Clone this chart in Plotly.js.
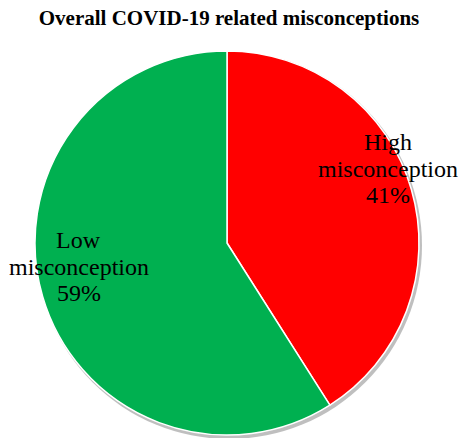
<!DOCTYPE html>
<html>
<head>
<meta charset="utf-8">
<script src="https://cdn.plot.ly/plotly-3.0.1.min.js"></script>
<style>html,body{margin:0;padding:0;background:#fff;}#chart{width:459px;height:438px;}</style>
</head>
<body>
<div id="chart"></div>
<script>
const categories = ["High misconception", "Low misconception"];
const labelLines = [["High", "misconception"], ["Low", "misconception"]];
const values = [41, 59];
const colors = ["#FF0000", "#00B050"];

const W = 459, H = 438;
const cx = 227, cy = 243, r = 192;
const font = "Liberation Serif, Times New Roman, serif";

const labelPos = [[388, 142], [78.5, 240]];
const lineGap = 26.5;
const annotations = [];
categories.forEach((c, i) => {
  const lines = labelLines[i].concat([values[i] + "%"]);
  lines.forEach((t, j) => {
    annotations.push({
      xref: "paper", yref: "paper",
      x: labelPos[i][0] / W, y: 1 - (labelPos[i][1] + j * lineGap) / H,
      xanchor: "center", yanchor: "middle",
      showarrow: false,
      text: t,
      font: {family: font, size: 24, color: "#000"}
    });
  });
});

const data = [{
  type: "pie",
  labels: categories,
  values: values,
  sort: false,
  direction: "clockwise",
  rotation: 0,
  marker: {colors: colors, line: {color: "#ffffff", width: 1.5}},
  textinfo: "none",
  hoverinfo: "label+percent",
  showlegend: false,
  domain: {x: [(cx - r) / W, (cx + r) / W], y: [1 - (cy + r) / H, 1 - (cy - r) / H]}
}];

const layout = {
  width: W, height: H,
  margin: {l: 0, r: 0, t: 0, b: 0},
  paper_bgcolor: "#fff",
  showlegend: false,
  title: {
    text: "<b>Overall COVID-19 related misconceptions</b>",
    font: {family: font, size: 21, color: "#000"},
    x: 229 / W, xanchor: "center",
    y: 1 - 18 / H, yanchor: "middle"
  },
  shapes: [{
    type: "circle", xref: "paper", yref: "paper", layer: "below",
    x0: (cx - r + 1) / W, x1: (cx + r + 3) / W,
    y0: 1 - (cy + r + 4) / H, y1: 1 - (cy - r + 1) / H,
    fillcolor: "rgba(0,0,0,0.25)", line: {width: 0}
  }],
  annotations: annotations
};

Plotly.newPlot("chart", data, layout, {displayModeBar: false, staticPlot: true});
</script>
</body>
</html>
